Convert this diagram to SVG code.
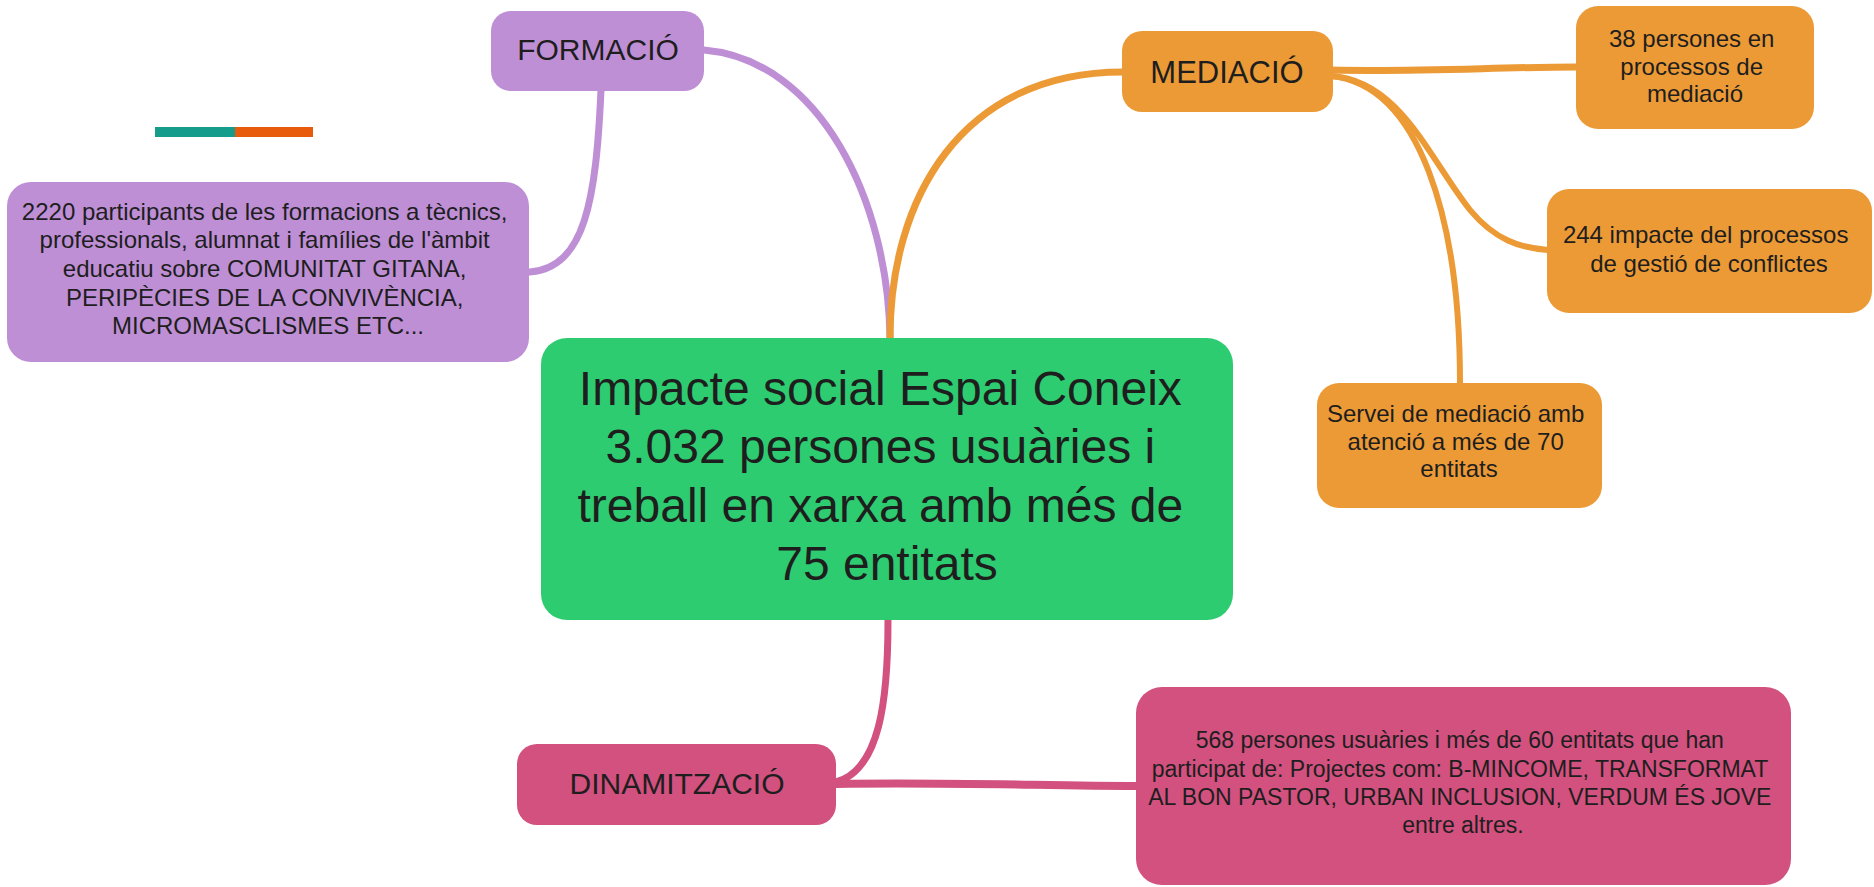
<svg xmlns="http://www.w3.org/2000/svg" width="1874" height="887" viewBox="0 0 1874 887">
<style>
.t{font-family:"Liberation Sans",Arial,sans-serif;fill:#1e1e1e;text-anchor:middle}
.c{fill:none;stroke-linecap:round}
.pu{fill:#BF8FD6}.or{fill:#EC9A36}.gr{fill:#2ECC71}.pk{fill:#D2517E}
</style>
<rect width="1874" height="887" fill="#ffffff"/>
<rect x="155" y="127" width="80" height="10" fill="#169C8A"/>
<rect x="235" y="127" width="78" height="10" fill="#E85A0C"/>
<g id="connectors">
<path class="c" stroke="#BF8FD6" stroke-width="7" d="M704 50 C820 60 888 200 890 338"/>
<path class="c" stroke="#BF8FD6" stroke-width="7" d="M601 90 C596 200 585 268 530 272"/>
<path class="c" stroke="#EC9A36" stroke-width="7" d="M890 338 C890 200 960 72 1123 72"/>
<path class="c" stroke="#EC9A36" stroke-width="7" d="M1331 70 C1420 72 1500 67 1576 67"/>
<path class="c" stroke="#EC9A36" stroke-width="6" d="M1331 76 C1400 80 1430 160 1470 210 C1495 240 1520 248 1548 250"/>
<path class="c" stroke="#EC9A36" stroke-width="6" d="M1331 76 C1420 85 1460 220 1460 383"/>
<path class="c" stroke="#D2517E" stroke-width="7" d="M888 620 C888 700 880 770 836 782"/>
<path class="c" stroke="#D2517E" stroke-width="8" d="M836 784 C950 782 1050 786 1136 786"/>
</g>
<g id="formacio">
<rect class="pu" x="491" y="11" width="213" height="80" rx="20"/>
<text class="t" x="598" y="60" font-size="30">FORMACIÓ</text>
</g>
<g id="formacio-detail">
<rect class="pu" x="7" y="182" width="522" height="180" rx="24"/>
<text class="t" font-size="24">
<tspan x="268" y="220">2220 participants de les formacions a tècnics,</tspan>
<tspan x="268" y="248">professionals, alumnat i famílies de l'àmbit</tspan>
<tspan x="268" y="277">educatiu sobre COMUNITAT GITANA,</tspan>
<tspan x="268" y="306">PERIPÈCIES DE LA CONVIVÈNCIA,</tspan>
<tspan x="268" y="334">MICROMASCLISMES ETC...</tspan>
</text>
</g>
<g id="central">
<rect class="gr" x="541" y="338" width="692" height="282" rx="26"/>
<text class="t" font-size="48">
<tspan x="887" y="405">Impacte social Espai Coneix</tspan>
<tspan x="887" y="463">3.032 persones usuàries i</tspan>
<tspan x="887" y="522">treball en xarxa amb més de</tspan>
<tspan x="887" y="580">75 entitats</tspan>
</text>
</g>
<g id="mediacio">
<rect class="or" x="1122" y="31" width="211" height="81" rx="20"/>
<text class="t" x="1227" y="83" font-size="31">MEDIACIÓ</text>
</g>
<g id="med-38">
<rect class="or" x="1576" y="6" width="238" height="123" rx="22"/>
<text class="t" font-size="24">
<tspan x="1695" y="47">38 persones en</tspan>
<tspan x="1695" y="75">processos de</tspan>
<tspan x="1695" y="102">mediació</tspan>
</text>
</g>
<g id="med-244">
<rect class="or" x="1547" y="189" width="325" height="124" rx="22"/>
<text class="t" font-size="24">
<tspan x="1709" y="243">244 impacte del processos</tspan>
<tspan x="1709" y="272">de gestió de conflictes</tspan>
</text>
</g>
<g id="med-servei">
<rect class="or" x="1317" y="383" width="285" height="125" rx="22"/>
<text class="t" font-size="24">
<tspan x="1459" y="422">Servei de mediació amb</tspan>
<tspan x="1459" y="450">atenció a més de 70</tspan>
<tspan x="1459" y="477">entitats</tspan>
</text>
</g>
<g id="dinamitzacio">
<rect class="pk" x="517" y="744" width="319" height="81" rx="20"/>
<text class="t" x="677" y="794" font-size="30">DINAMITZACIÓ</text>
</g>
<g id="dinam-568">
<rect class="pk" x="1136" y="687" width="655" height="198" rx="26"/>
<text class="t" font-size="23">
<tspan x="1463" y="748">568 persones usuàries i més de 60 entitats que han</tspan>
<tspan x="1463" y="777">participat de: Projectes com: B-MINCOME, TRANSFORMAT</tspan>
<tspan x="1463" y="805">AL BON PASTOR, URBAN INCLUSION, VERDUM ÉS JOVE</tspan>
<tspan x="1463" y="833">entre altres.</tspan>
</text>
</g>
</svg>
